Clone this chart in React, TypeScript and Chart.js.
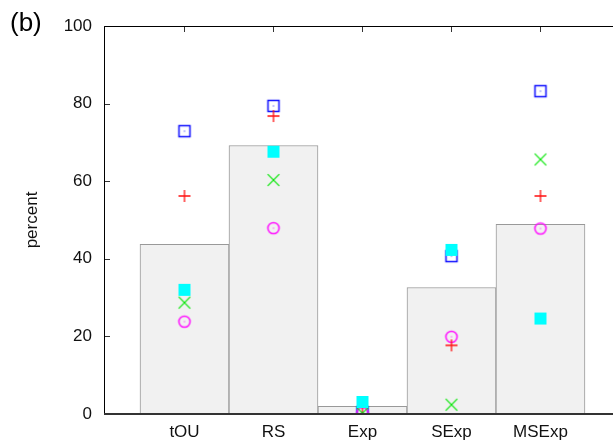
import React, { useEffect, useRef } from "react";
import { Chart, registerables } from "chart.js";

Chart.register(...registerables);

const categories = ["tOU", "RS", "Exp", "SExp", "MSExp"];
const barValues = [43.7, 69.2, 2.0, 32.6, 48.9];
const blueSquare = [72.9, 79.4, 0.5, 40.7, 83.2];
const redPlus = [56.2, 76.8, 0.0, 17.7, 56.2];
const greenCross = [28.7, 60.3, 0.2, 2.4, 65.6];
const cyanFilled = [32.0, 67.6, 3.1, 42.3, 24.6];
const magentaCircle = [23.8, 47.9, 0.2, 19.9, 47.8];
const yTicks = [0, 20, 40, 60, 80, 100];

const FONT = "'Liberation Sans', Arial, Helvetica, sans-serif";

function makeMarker(kind: string): HTMLCanvasElement {
  const c = document.createElement("canvas");
  c.width = 16;
  c.height = 16;
  const g = c.getContext("2d")!;
  g.lineWidth = 1.5;
  if (kind === "blue") {
    g.strokeStyle = "#0f0fff";
    g.strokeRect(2.5, 2.5, 11, 11);
    g.fillStyle = "#0f0fff";
    g.fillRect(7.5, 7.5, 1, 1);
  } else if (kind === "cyan") {
    g.fillStyle = "#00ffff";
    g.fillRect(2, 2, 12, 12);
  } else if (kind === "red") {
    g.strokeStyle = "#ff0f0f";
    g.lineWidth = 1.3;
    g.beginPath();
    g.moveTo(2, 8);
    g.lineTo(14, 8);
    g.moveTo(8, 2);
    g.lineTo(8, 14);
    g.stroke();
  } else if (kind === "green") {
    g.strokeStyle = "#00e600";
    g.lineWidth = 1.2;
    g.beginPath();
    g.moveTo(2.2, 2.2);
    g.lineTo(13.8, 13.8);
    g.moveTo(13.8, 2.2);
    g.lineTo(2.2, 13.8);
    g.stroke();
  } else if (kind === "magenta") {
    g.strokeStyle = "#ff0fff";
    g.beginPath();
    g.arc(8, 8, 5.6, 0, Math.PI * 2);
    g.stroke();
    g.fillStyle = "#ff0fff";
    g.fillRect(7.5, 7.5, 1, 1);
  }
  return c;
}

const toPoints = (arr: number[]) => arr.map((v, i) => ({ x: i + 1, y: v }));

const framePlugin = {
  id: "frame",
  afterDraw(chart: any) {
    const { ctx, chartArea } = chart;
    const { left, top, bottom } = chartArea;
    const xs = chart.scales.x;
    const ys = chart.scales.y;
    ctx.save();
    ctx.strokeStyle = "#333";
    ctx.lineWidth = 1;
    yTicks.forEach((t) => {
      const py = Math.round(ys.getPixelForValue(t)) + 0.5;
      ctx.beginPath();
      ctx.moveTo(left, py);
      ctx.lineTo(left + 6, py);
      ctx.stroke();
    });
    categories.forEach((_, i) => {
      const px = Math.round(xs.getPixelForValue(i + 1)) + 0.5;
      ctx.beginPath();
      ctx.moveTo(px, top);
      ctx.lineTo(px, top + 6);
      ctx.stroke();
    });
    ctx.strokeStyle = "#000";
    ctx.lineWidth = 1;
    ctx.beginPath();
    ctx.moveTo(left + 0.5, bottom);
    ctx.lineTo(left + 0.5, top + 0.5);
    ctx.lineTo(chart.width, top + 0.5);
    ctx.stroke();
    ctx.strokeStyle = "#333";
    ctx.lineWidth = 2;
    ctx.beginPath();
    ctx.moveTo(left, bottom);
    ctx.lineTo(chart.width, bottom);
    ctx.stroke();
    ctx.fillStyle = "#000";
    ctx.font = `26px ${FONT}`;
    ctx.textBaseline = "alphabetic";
    ctx.textAlign = "left";
    ctx.fillText("(b)", 10, 31);
    ctx.restore();
  },
};

export default function App() {
  const ref = useRef<HTMLCanvasElement>(null);
  useEffect(() => {
    document.body.style.margin = "0";
    const pointDs = (label: string, data: number[], kind: string) => ({
      type: "scatter" as const,
      label,
      data: toPoints(data),
      pointStyle: makeMarker(kind),
      pointRadius: 8,
      pointHoverRadius: 8,
    });
    const chart = new Chart(ref.current!, {
      type: "bar",
      data: {
        datasets: [
          pointDs("cyan", cyanFilled, "cyan") as any,
          pointDs("green", greenCross, "green") as any,
          pointDs("red", redPlus, "red") as any,
          pointDs("magenta", magentaCircle, "magenta") as any,
          pointDs("blue", blueSquare, "blue") as any,
          {
            type: "bar",
            label: "bars",
            data: toPoints(barValues),
            backgroundColor: "#f1f1f1",
            borderColor: "#999999",
            borderWidth: 1,
            borderSkipped: "bottom",
            barPercentage: 1,
            categoryPercentage: 1,
          } as any,
        ],
      },
      options: {
        responsive: false,
        animation: false,
        devicePixelRatio: 1,
        layout: { autoPadding: false, padding: { top: 26, left: 0, right: 0, bottom: 0 } },
        plugins: {
          legend: { display: false },
          tooltip: { enabled: false },
          title: { display: false },
        },
        scales: {
          x: {
            type: "linear",
            offset: false,
            min: 0.0955,
            max: 5.815,
            grid: { display: false, drawTicks: false, offset: false },
            border: { display: false },
            afterBuildTicks: (scale: any) => {
              scale.ticks = categories.map((_, i) => ({ value: i + 1 }));
            },
            afterFit: (scale: any) => {
              scale.height = 27;
              scale.paddingRight = 0;
              scale.paddingLeft = 0;
            },
            ticks: {
              autoSkip: false,
              maxRotation: 0,
              padding: 8.5,
              color: "#111",
              font: { family: FONT, size: 17 },
              callback: (v: any) => categories[Math.round(Number(v)) - 1] ?? "",
            },
          },
          y: {
            type: "linear",
            min: 0,
            max: 100,
            grid: { display: false, drawTicks: false },
            border: { display: false },
            afterBuildTicks: (scale: any) => {
              scale.ticks = yTicks.map((v) => ({ value: v }));
            },
            afterFit: (scale: any) => {
              scale.width = 104;
            },
            ticks: {
              padding: 12,
              color: "#111",
              font: { family: FONT, size: 17 },
            },
            title: {
              display: true,
              text: "percent",
              color: "#111",
              font: { family: FONT, size: 17 },
              padding: { top: 22, bottom: 0 },
            },
          },
        },
      },
      plugins: [framePlugin],
    });
    return () => chart.destroy();
  }, []);
  return (
    <canvas
      ref={ref}
      width={613}
      height={441}
      style={{ display: "block", width: 613, height: 441 }}
    />
  );
}
